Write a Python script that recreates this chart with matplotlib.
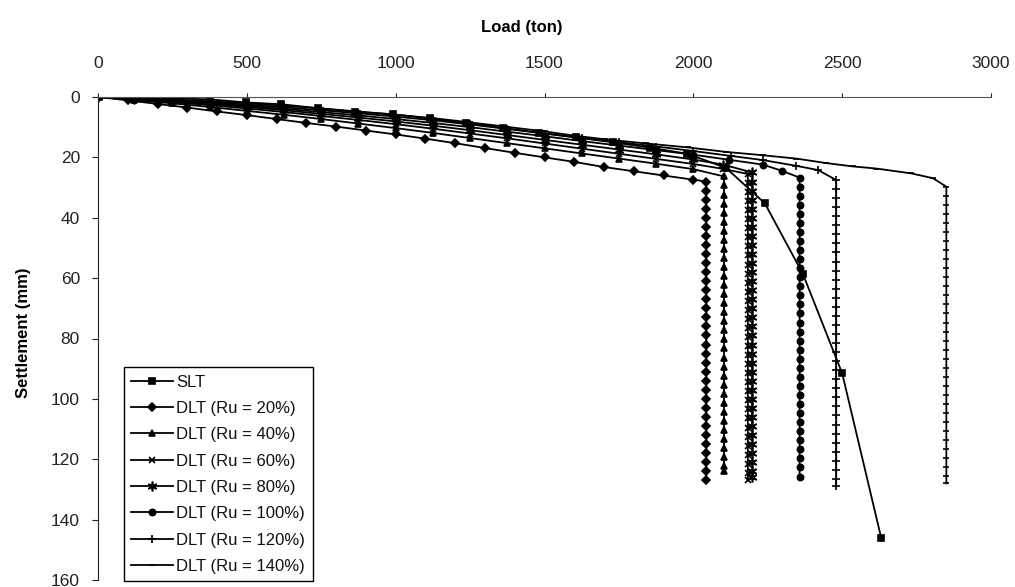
import matplotlib
matplotlib.use("Agg")
import matplotlib.pyplot as plt

plt.rcParams["font.family"] = ["Liberation Sans", "DejaVu Sans"]

# ---- data (load in ton, settlement in mm) ----
slt_load = [0, 125, 250, 376, 498, 616, 739, 862, 991, 1114, 1237, 1359, 1480,
            1605, 1730, 1855, 1980, 2110, 2240, 2368, 2500, 2631]
slt_settle = [0, 0.2, 0.4, 0.8, 1.8, 2.4, 3.7, 4.9, 5.7, 7.1, 8.6, 10.2, 11.8,
              13.4, 15.0, 16.8, 18.8, 23.5, 35.2, 58.6, 91.5, 146.0]

ru20_load = [0, 100, 200, 300, 400, 500, 600, 700, 800, 900, 1000, 1100, 1200,
             1300, 1400, 1500, 1600, 1700, 1800, 1900, 2000] + [2044] * 34
ru20_settle = [0, 1.1, 2.3, 3.5, 4.8, 6.0, 7.3, 8.6, 9.8, 11.1, 12.4, 13.8, 15.3,
               16.9, 18.5, 20.0, 21.5, 23.2, 24.6, 26.0, 27.4,
               28, 31, 34, 37, 40, 43, 46, 49, 52, 55, 58, 61, 64, 67, 70, 73, 76,
               79, 82, 85, 88, 91, 94, 97, 100, 103, 106, 109, 112, 115, 118, 121,
               124, 127]

ru40_load = [0, 120, 250, 375, 500, 625, 750, 875, 1000, 1125, 1250, 1375, 1500,
             1625, 1750, 1875, 2000] + [2103] * 34
ru40_settle = [0, 1.0, 2.1, 3.3, 4.6, 5.9, 7.3, 8.8, 10.3, 11.9, 13.6, 15.3, 17.0,
               18.7, 20.4, 22.1, 23.9,
               26.3, 29.3, 32.3, 35.3, 38.3, 41.3, 44.3, 47.3, 50.3, 53.3, 56.3,
               59.3, 62.3, 65.3, 68.3, 71.3, 74.3, 77.3, 80.3, 83.3, 86.3, 89.3,
               92.3, 95.3, 98.3, 101.3, 104.3, 107.3, 110.3, 113.3, 116.3, 119.3,
               122.3, 124.0]

ru60_load = [0, 120, 250, 375, 500, 625, 750, 875, 1000, 1125, 1250, 1375, 1500,
             1625, 1750, 1875, 2000, 2100] + [2183] * 35
ru60_settle = [0, 0.8, 1.7, 2.7, 3.8, 5.0, 6.3, 7.6, 9.0, 10.5, 12.1, 13.7, 15.4,
               17.1, 18.8, 20.5, 22.2, 23.8,
               25.5, 28.5, 31.5, 34.5, 37.5, 40.5, 43.5, 46.5, 49.5, 52.5, 55.5,
               58.5, 61.5, 64.5, 67.5, 70.5, 73.5, 76.5, 79.5, 82.5, 85.5, 88.5,
               91.5, 94.5, 97.5, 100.5, 103.5, 106.5, 109.5, 112.5, 115.5, 118.5,
               121.5, 124.5, 127.0]

ru80_load = [0, 120, 250, 375, 500, 625, 750, 875, 1000, 1125, 1250, 1375, 1500,
             1625, 1750, 1875, 2000, 2100] + [2198] * 35
ru80_settle = [0, 0.6, 1.4, 2.3, 3.3, 4.4, 5.6, 6.8, 8.1, 9.5, 11.0, 12.6, 14.2,
               15.8, 17.4, 19.0, 20.7, 22.4,
               25, 28, 31, 34, 37, 40, 43, 46, 49, 52, 55, 58, 61, 64, 67, 70, 73,
               76, 79, 82, 85, 88, 91, 94, 97, 100, 103, 106, 109, 112, 115, 118,
               121, 124, 126]

ru100_load = [0, 120, 250, 375, 500, 625, 750, 875, 1000, 1125, 1250, 1375, 1500,
              1625, 1750, 1875, 2000, 2120, 2234, 2299] + [2357] * 34
ru100_settle = [0, 0.5, 1.2, 2.0, 2.9, 3.9, 5.0, 6.1, 7.3, 8.6, 10.0, 11.5, 13.0,
                14.6, 16.1, 17.6, 19.1, 20.8, 22.4, 24.5,
                26.7, 29.7, 32.7, 35.7, 38.7, 41.7, 44.7, 47.7, 50.7, 53.7, 56.7,
                59.7, 62.7, 65.7, 68.7, 71.7, 74.7, 77.7, 80.7, 83.7, 86.7, 89.7,
                92.7, 95.7, 98.7, 101.7, 104.7, 107.7, 110.7, 113.7, 116.7, 119.7,
                122.7, 126.0]

ru120_load = [0, 120, 250, 375, 500, 625, 750, 875, 1000, 1125, 1250, 1375, 1500,
              1625, 1750, 1875, 2000, 2125, 2234, 2346, 2419] + [2480] * 35
ru120_settle = [0, 0.4, 1.0, 1.7, 2.5, 3.4, 4.4, 5.4, 6.5, 7.7, 9.1, 10.6, 12.1,
                13.6, 15.0, 16.4, 17.9, 19.5, 20.9, 22.8, 24.2,
                27.5, 30.5, 33.5, 36.5, 39.5, 42.5, 45.5, 48.5, 51.5, 54.5, 57.5,
                60.5, 63.5, 66.5, 69.5, 72.5, 75.5, 78.5, 81.5, 84.5, 87.5, 90.5,
                93.5, 96.5, 99.5, 102.5, 105.5, 108.5, 111.5, 114.5, 117.5, 120.5,
                123.5, 126.5, 129.0]

ru140_load = [0, 120, 250, 375, 500, 625, 750, 875, 1000, 1125, 1250, 1375, 1500,
              1600, 1702, 1842, 1982, 2111, 2234, 2346, 2447, 2536, 2615, 2732,
              2805] + [2850] * 34
ru140_settle = [0, 0.3, 0.8, 1.4, 2.1, 2.9, 3.8, 4.8, 5.9, 7.0, 8.4, 9.9, 11.4,
                12.8, 14.0, 15.4, 16.7, 18.2, 19.3, 20.4, 21.9, 23.0, 23.7, 25.3,
                26.9,
                29.7, 32.7, 35.7, 38.7, 41.7, 44.7, 47.7, 50.7, 53.7, 56.7, 59.7,
                62.7, 65.7, 68.7, 71.7, 74.7, 77.7, 80.7, 83.7, 86.7, 89.7, 92.7,
                95.7, 98.7, 101.7, 104.7, 107.7, 110.7, 113.7, 116.7, 119.7, 122.7,
                125.7, 128.0]

series = [
    ("SLT", slt_load, slt_settle, "s", 4.5),
    ("DLT (Ru = 20%)", ru20_load, ru20_settle, "D", 4),
    ("DLT (Ru = 40%)", ru40_load, ru40_settle, "^", 4.5),
    ("DLT (Ru = 60%)", ru60_load, ru60_settle, "x", 5),
    ("DLT (Ru = 80%)", ru80_load, ru80_settle, (6, 2, 0), 7),
    ("DLT (Ru = 100%)", ru100_load, ru100_settle, "o", 4.5),
    ("DLT (Ru = 120%)", ru120_load, ru120_settle, "+", 6),
    ("DLT (Ru = 140%)", ru140_load, ru140_settle, "_", 5),
]

fig = plt.figure(figsize=(10.15, 5.87), dpi=100)
ax = fig.add_axes([98 / 1015, 1 - 580 / 587, 893 / 1015, 483 / 587])

for name, x, y, mk, ms in series:
    ax.plot(x, y, color="black", lw=1.3, marker=mk, ms=ms, mew=1.2,
            mfc="black", mec="black", label=name)

ax.set_xlim(0, 3000)
ax.set_ylim(160, 0)
ax.set_xticks(range(0, 3001, 500))
ax.set_yticks(range(0, 161, 20))

ax.xaxis.tick_top()
ax.xaxis.set_label_position("top")
ax.spines["bottom"].set_visible(False)
ax.spines["right"].set_visible(False)
ax.spines["top"].set_color("#555555")
ax.spines["left"].set_color("#222222")
ax.tick_params(axis="x", direction="out", length=3, pad=16, labelsize=12.5,
               colors="#222222")
ax.tick_params(axis="y", direction="out", length=4, pad=9, labelsize=12.5,
               colors="#222222")

ax.set_xlabel("Load (ton)", fontsize=12, fontweight="bold")
ax.xaxis.set_label_coords(0.475, 1.135)
ax.set_ylabel("Settlement (mm)", fontsize=12, fontweight="bold")
ax.yaxis.set_label_coords(-0.075, 0.511)

leg = ax.legend(loc="lower left", bbox_to_anchor=(0.029, -0.003),
                borderaxespad=0, fancybox=False, framealpha=1,
                edgecolor="black", fontsize=12, handlelength=2.5,
                handletextpad=0.2, labelspacing=0.68, borderpad=0.45)
leg.get_frame().set_linewidth(1.0)
for t in leg.get_texts():
    t.set_color("#111111")

fig.savefig("out.png", dpi=100, facecolor="white")
